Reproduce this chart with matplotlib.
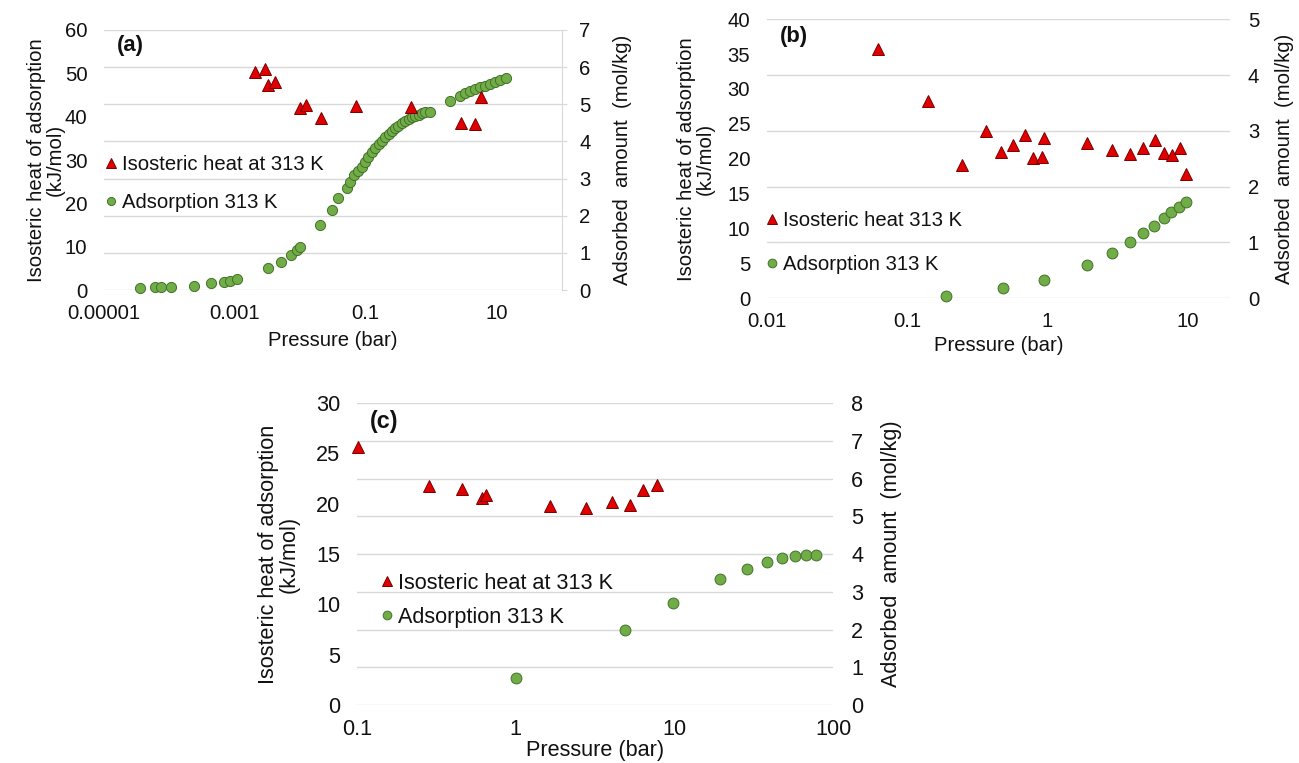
import matplotlib
matplotlib.use("Agg")
import matplotlib.pyplot as plt
from matplotlib.ticker import FixedLocator, FixedFormatter, NullLocator

plt.rcParams['font.family'] = ['Liberation Sans', 'DejaVu Sans']

# ---- panel (a) ----
a_heat_p = [0.0020, 0.0029, 0.0032, 0.0041, 0.0099, 0.0121, 0.0206, 0.070, 0.49, 2.9, 4.7, 5.8]
a_heat_q = [50.2, 51.0, 47.2, 47.9, 41.9, 42.7, 39.6, 42.5, 42.2, 38.5, 38.2, 44.6]
a_ads_p = [3.5e-5, 6.0e-5, 7.4e-5, 1.06e-4, 2.4e-4, 4.3e-4, 6.7e-4, 8.4e-4, 1.07e-3,
           3.2e-3, 5.0e-3, 7.2e-3, 9.0e-3, 9.9e-3,
           0.020, 0.030, 0.038, 0.051, 0.058, 0.067, 0.077, 0.087, 0.098, 0.110,
           0.124, 0.139, 0.157, 0.176, 0.198, 0.223, 0.251, 0.282, 0.316, 0.356,
           0.400, 0.450, 0.507, 0.569, 0.640, 0.721, 0.809, 0.942,
           1.95, 2.78, 3.31, 3.95, 4.71, 5.61, 6.69, 7.98, 9.52, 11.4, 14.0]
a_ads_n = [0.045, 0.072, 0.072, 0.09, 0.117, 0.18, 0.224, 0.251, 0.287,
           0.584, 0.763, 0.942, 1.077, 1.149,
           1.75, 2.154, 2.468, 2.738, 2.917, 3.096, 3.213, 3.32, 3.455, 3.59,
           3.707, 3.815, 3.923, 4.02, 4.11, 4.2, 4.28, 4.353, 4.424, 4.488,
           4.55, 4.604, 4.649, 4.685, 4.72, 4.757, 4.784, 4.802,
           5.089, 5.224, 5.296, 5.358, 5.412, 5.457, 5.50, 5.547, 5.592, 5.654, 5.717]
a_xticks = [1e-5, 1e-3, 1e-1, 10]
a_xlabels = ['0.00001', '0.001', '0.1', '10']

# ---- panel (b) ----
b_heat_p = [0.062, 0.140, 0.245, 0.362, 0.470, 0.571, 0.689, 0.789, 0.912, 0.938,
            1.91, 2.90, 3.87, 4.81, 5.88, 6.81, 7.71, 8.75, 9.75]
b_heat_q = [35.8, 28.3, 19.1, 23.9, 20.9, 21.9, 23.4, 20.1, 20.2, 22.9,
            22.2, 21.2, 20.6, 21.5, 22.7, 20.8, 20.5, 21.5, 17.8]
b_ads_p = [0.189, 0.483, 0.953, 1.91, 2.90, 3.87, 4.79, 5.73, 6.74, 7.64, 8.61, 9.70]
b_ads_n = [0.036, 0.174, 0.323, 0.592, 0.813, 0.999, 1.172, 1.292, 1.43, 1.537, 1.638, 1.716]
b_xticks = [0.01, 0.1, 1, 10]
b_xlabels = ['0.01', '0.1', '1', '10']

# ---- panel (c) ----
c_heat_p = [0.102, 0.284, 0.457, 0.611, 0.654, 1.65, 2.77, 4.03, 5.24, 6.32, 7.79]
c_heat_q = [25.6, 21.8, 21.5, 20.6, 20.9, 19.8, 19.6, 20.2, 19.9, 21.4, 21.9]
c_ads_p = [1.0, 4.92, 9.82, 19.5, 28.9, 38.6, 48.0, 57.7, 67.4, 77.8]
c_ads_n = [0.724, 1.987, 2.693, 3.338, 3.603, 3.788, 3.894, 3.947, 3.98, 3.98]
c_xticks = [0.1, 1, 10, 100]
c_xlabels = ['0.1', '1', '10', '100']

RED, RED_EDGE = '#E00000', '#7A0000'
GREEN, GREEN_EDGE = '#70AD47', '#43702A'
GRID = '#D9D9D9'
TXT = '#111111'

fig = plt.figure(figsize=(12.99, 7.63), dpi=100)


def panel(rect, tag, heat_p, heat_q, ads_p, ads_n, xlim, xticks, xlabels,
          ylim1, ystep1, ylim2, heat_label, fs, ms_o, ms_t, leg_anchor,
          leg_spacing, ylab_x, ylab2_x, xpad, right_spine=False):
    ax2 = fig.add_axes(rect)
    ax1 = ax2.twinx()
    # left axis on top so triangles sit over the right-axis gridlines
    ax1.yaxis.set_label_position('left')
    ax1.yaxis.tick_left()
    ax2.yaxis.set_label_position('right')
    ax2.yaxis.tick_right()
    ax1.set_zorder(ax2.get_zorder() + 1)
    ax1.patch.set_visible(False)

    for ax in (ax1, ax2):
        ax.set_xscale('log')
        ax.set_xlim(*xlim)
        for s in ax.spines.values():
            s.set_visible(False)

    ax2.xaxis.set_major_locator(FixedLocator(xticks))
    ax2.xaxis.set_major_formatter(FixedFormatter(xlabels))
    ax2.xaxis.set_minor_locator(NullLocator())
    ax1.xaxis.set_minor_locator(NullLocator())
    ax2.tick_params(axis='x', length=0, labelsize=fs, labelcolor=TXT, pad=10)

    ax1.set_ylim(*ylim1)
    ax1.set_yticks(list(range(ylim1[0], ylim1[1] + 1, ystep1)))
    ax1.tick_params(axis='y', length=0, labelsize=fs, labelcolor=TXT, pad=12)

    ax2.set_ylim(*ylim2)
    ax2.set_yticks(list(range(ylim2[0], ylim2[1] + 1)))
    ax2.grid(True, axis='y', color=GRID, lw=1.0)
    ax2.set_axisbelow(True)
    if right_spine:
        ax2.spines['right'].set_visible(True)
        ax2.spines['right'].set_color(GRID)
        ax2.tick_params(axis='y', length=3.6, color=GRID, direction='out',
                        labelsize=fs, labelcolor=TXT, pad=8.6)
    else:
        ax2.tick_params(axis='y', length=0, labelsize=fs, labelcolor=TXT, pad=13)

    h2, = ax2.plot(ads_p, ads_n, ls='none', marker='o', ms=ms_o, mfc=GREEN,
                   mec=GREEN_EDGE, mew=0.7, label='Adsorption 313 K', clip_on=False)
    h1, = ax1.plot(heat_p, heat_q, ls='none', marker='^', ms=ms_t, mfc=RED,
                   mec=RED_EDGE, mew=0.7, label=heat_label, clip_on=False)

    ax1.legend([h1, h2], [heat_label, 'Adsorption 313 K'], loc='center left',
               bbox_to_anchor=leg_anchor, frameon=False, fontsize=fs,
               handlelength=0.8, handletextpad=0.15, borderpad=0,
               borderaxespad=0, labelspacing=leg_spacing, markerscale=0.8,
               labelcolor=TXT)

    ax2.set_xlabel('Pressure (bar)', fontsize=fs, color=TXT, labelpad=xpad)
    ax1.set_ylabel('Isosteric heat of adsorption\n(kJ/mol)', fontsize=fs,
                   color=TXT, linespacing=1.0)
    ax1.yaxis.set_label_coords(ylab_x, 0.5)
    ax2.set_ylabel('Adsorbed  amount  (mol/kg)', fontsize=fs, color=TXT)
    ax2.yaxis.set_label_coords(ylab2_x, 0.5)

    ax1.text(0.028, 0.94, tag, transform=ax1.transAxes, fontsize=fs + 1.2,
             fontweight='bold', color=TXT, ha='left', va='center')
    return ax1, ax2


panel([0.0801, 0.6199, 0.3526, 0.3408], '(a)', a_heat_p, a_heat_q, a_ads_p, a_ads_n,
      (1e-5, 100), a_xticks, a_xlabels, (0, 60), 10, (0, 7),
      'Isosteric heat at 313 K', 14.6, 7.3, 8.6, (-0.003, 0.41), 0.92,
      -0.085, 1.112, 6, right_spine=True)

panel([0.5904, 0.6094, 0.3564, 0.3653], '(b)', b_heat_p, b_heat_q, b_ads_p, b_ads_n,
      (0.01, 20), b_xticks, b_xlabels, (0, 40), 5, (0, 5),
      'Isosteric heat 313 K', 14.6, 7.8, 9.0, (-0.006, 0.199), 1.25,
      -0.112, 1.097, 4)

panel([0.2748, 0.0760, 0.3665, 0.3958], '(c)', c_heat_p, c_heat_q, c_ads_p, c_ads_n,
      (0.1, 100), c_xticks, c_xlabels, (0, 30), 5, (0, 8),
      'Isosteric heat at 313 K', 15.6, 7.8, 9.0, (0.044, 0.346), 0.6,
      -0.12, 1.10, 0)

fig.savefig('out.png', dpi=100)
